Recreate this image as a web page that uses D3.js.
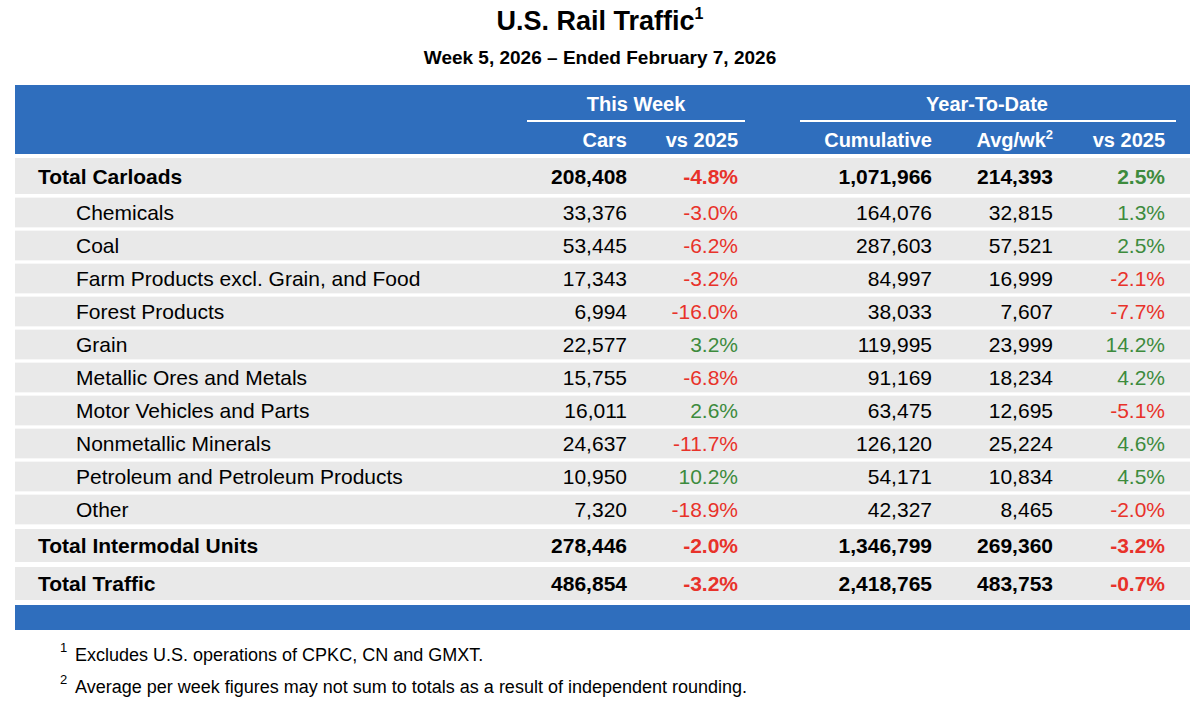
<!DOCTYPE html>
<html>
<head>
<script src="https://d3js.org/d3.v7.min.js"></script>
<style>body{margin:0;background:#fff}</style>
</head>
<body>
<svg width="1200" height="703"></svg>
<script>
var categories = ["Chemicals", "Coal", "Farm Products excl. Grain, and Food", "Forest Products", "Grain",
  "Metallic Ores and Metals", "Motor Vehicles and Parts", "Nonmetallic Minerals",
  "Petroleum and Petroleum Products", "Other"];
var weekCars = [33376, 53445, 17343, 6994, 22577, 15755, 16011, 24637, 10950, 7320];
var weekChg = [-3.0, -6.2, -3.2, -16.0, 3.2, -6.8, 2.6, -11.7, 10.2, -18.9];
var ytdCum = [164076, 287603, 84997, 38033, 119995, 91169, 63475, 126120, 54171, 42327];
var ytdAvg = [32815, 57521, 16999, 7607, 23999, 18234, 12695, 25224, 10834, 8465];
var ytdChg = [1.3, 2.5, -2.1, -7.7, 14.2, 4.2, -5.1, 4.6, 4.5, -2.0];

var totals = ["Total Carloads", "Total Intermodal Units", "Total Traffic"];
var totCars = [208408, 278446, 486854];
var totChg = [-4.8, -2.0, -3.2];
var totCum = [1071966, 1346799, 2418765];
var totAvg = [214393, 269360, 483753];
var totYtdChg = [2.5, -3.2, -0.7];

var blue = "#2f6ebd", gray = "#e9e9e9", red = "#e8322a", green = "#3d8b3d";
var font = "Liberation Sans, Arial, sans-serif";
var svg = d3.select("svg").attr("font-family", font);
var L = 15, R = 1190;

// title
var t = svg.append("text").attr("x", 600).attr("y", 30).attr("text-anchor", "middle")
  .attr("font-size", 27).attr("font-weight", "bold");
t.append("tspan").text("U.S. Rail Traffic");
t.append("tspan").attr("font-size", 16).attr("dy", -11).text("1");
svg.append("text").attr("x", 600).attr("y", 64).attr("text-anchor", "middle")
  .attr("font-size", 19).attr("font-weight", "bold").text("Week 5, 2026 \u2013 Ended February 7, 2026");

// header
svg.append("rect").attr("x", L).attr("y", 85).attr("width", R - L).attr("height", 69).attr("fill", blue);
var colX = [627, 738, 932, 1053, 1165];
var hdr = svg.append("g").attr("fill", "#fff").attr("font-weight", "bold").attr("font-size", 20);
hdr.append("text").attr("x", 636).attr("y", 111).attr("text-anchor", "middle").text("This Week");
hdr.append("text").attr("x", 987).attr("y", 111).attr("text-anchor", "middle").text("Year-To-Date");
svg.append("line").attr("x1", 527).attr("x2", 745).attr("y1", 121).attr("y2", 121).attr("stroke", "#fff").attr("stroke-width", 2);
svg.append("line").attr("x1", 800).attr("x2", 1176).attr("y1", 121).attr("y2", 121).attr("stroke", "#fff").attr("stroke-width", 2);
["Cars", "vs 2025", "Cumulative", null, "vs 2025"].forEach(function (h, i) {
  if (h) hdr.append("text").attr("x", colX[i]).attr("y", 147).attr("text-anchor", "end").text(h);
});
var av = hdr.append("text").attr("x", colX[3]).attr("y", 147).attr("text-anchor", "end");
av.append("tspan").text("Avg/wk");
av.append("tspan").attr("font-size", 13).attr("dy", -8).text("2");

var fmt = d3.format(",");
var pct = function (v) { return v.toFixed(1) + "%"; };
var col = function (v) { return v < 0 ? red : green; };

// row layout
var y = d3.scaleBand().domain(categories).range([196, 526]).paddingInner(0.1).paddingOuter(0.05);
var totY = d3.scaleOrdinal().domain(totals).range([[158, 36], [529, 33], [567, 33]]);

function row(label, vals, top, h, bold, indent) {
  var g = svg.append("g").attr("font-size", 21).attr("font-weight", bold ? "bold" : "normal");
  g.append("rect").attr("x", L).attr("y", top).attr("width", R - L).attr("height", h).attr("fill", gray);
  var base = top + h / 2 + 7.5;
  g.append("text").attr("x", indent ? 76 : 38).attr("y", base).text(label);
  vals.forEach(function (v, i) {
    var isPct = i === 1 || i === 4;
    g.append("text").attr("x", colX[i]).attr("y", base).attr("text-anchor", "end")
      .attr("fill", isPct ? col(v) : "#000").text(isPct ? pct(v) : fmt(v));
  });
}
totals.forEach(function (n, i) {
  var p = totY(n);
  row(n, [totCars[i], totChg[i], totCum[i], totAvg[i], totYtdChg[i]], p[0], p[1], true, false);
});
categories.forEach(function (c, i) {
  row(c, [weekCars[i], weekChg[i], ytdCum[i], ytdAvg[i], ytdChg[i]], y(c), y.bandwidth(), false, true);
});

svg.append("rect").attr("x", L).attr("y", 605).attr("width", R - L).attr("height", 25).attr("fill", blue);

// footnotes
[["1", "Excludes U.S. operations of CPKC, CN and GMXT.", 661], ["2", "Average per week figures may not sum to totals as a result of independent rounding.", 693]]
  .forEach(function (f) {
    svg.append("text").attr("x", 60).attr("y", f[2] - 9).attr("font-size", 13).text(f[0]);
    svg.append("text").attr("x", 75).attr("y", f[2]).attr("font-size", 18).text(f[1]);
  });
</script>
</body>
</html>
